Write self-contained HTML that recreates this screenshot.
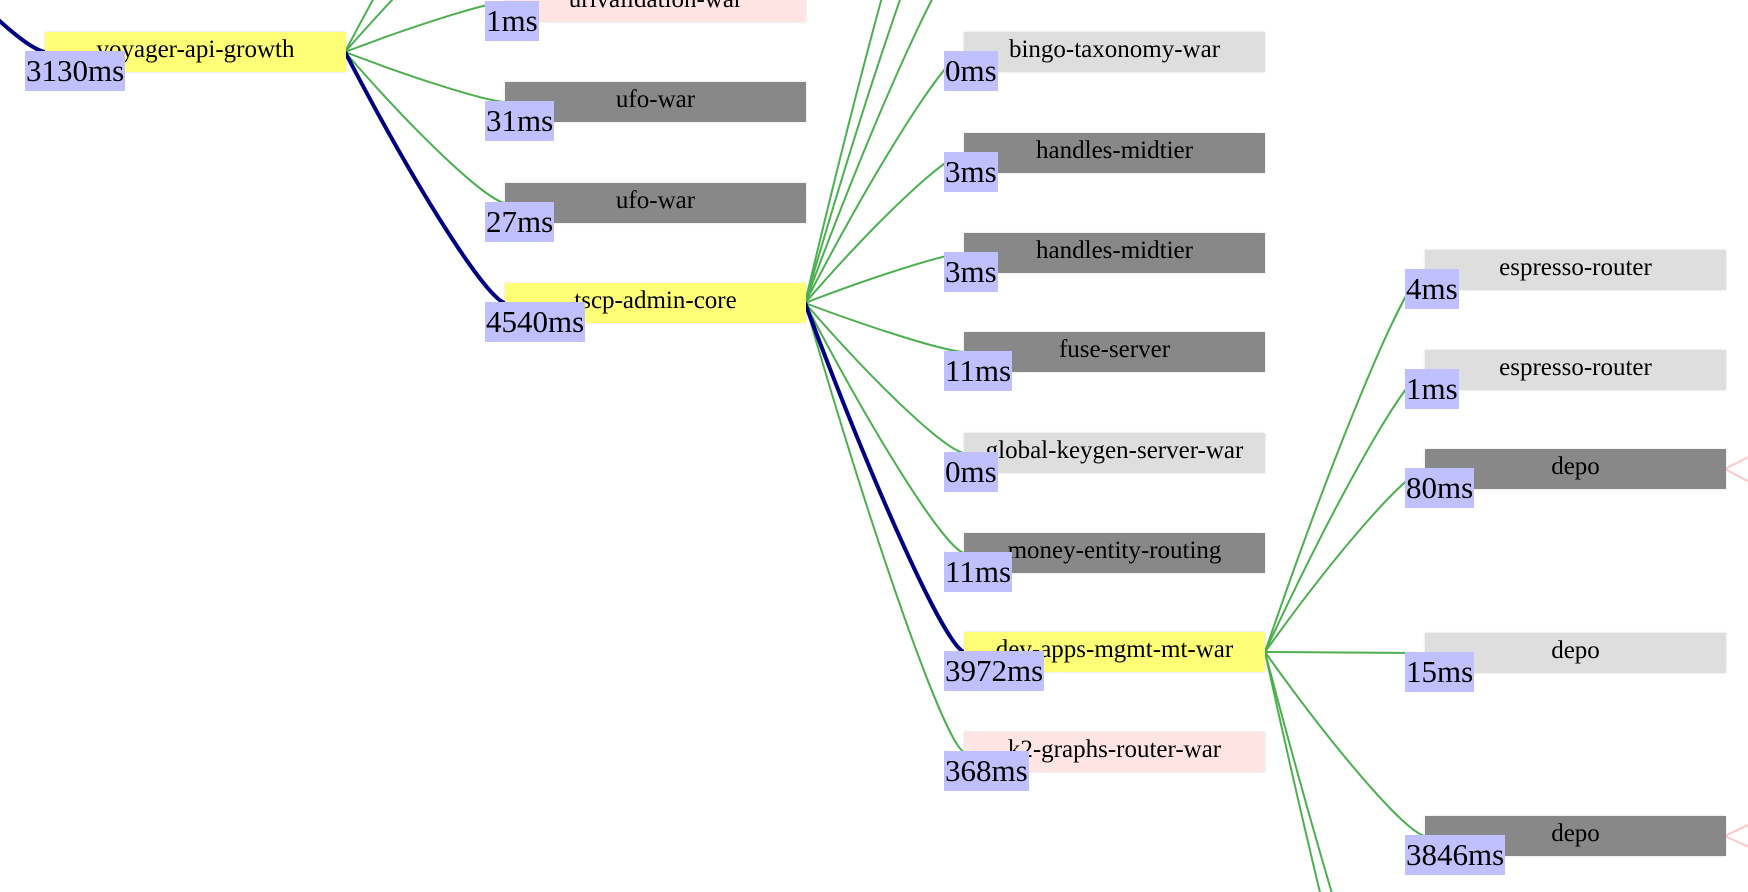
<!DOCTYPE html>
<html><head><meta charset="utf-8"><style>
html,body{margin:0;padding:0;background:#fff;width:1748px;height:892px;overflow:hidden;position:relative;font-family:"Liberation Serif",serif}
svg{position:absolute;left:0;top:0}
.n{position:absolute;width:301px;height:40px;text-align:center;font-size:25px;line-height:36px;color:#000;box-shadow:0 0 2px rgba(0,0,0,0.15)}
.y{background:#ffff77}.g{background:#888}.l{background:#dedede}.p{background:#ffe4e4}
.m{position:absolute;background:#c0c0ff;font-size:31px;line-height:40px;height:40px;padding:0 1px;color:#000}
</style></head><body>
<svg width="1748" height="892" id="s"></svg>
<script>
var s=document.getElementById('s');
function L(x1,y1,x2,y2,c,w){var dx=x2-x1,dy=y2-y1;
var d='M'+x1+','+y1+' C'+(x1+dx*0.45)+','+(y1+dy*0.55)+' '+(x2-dx*0.12)+','+(y2-dy*0.02)+' '+x2+','+y2;
var p=document.createElementNS('http://www.w3.org/2000/svg','path');p.setAttribute('d',d);p.setAttribute('fill','none');p.setAttribute('stroke',c);p.setAttribute('stroke-width',w);s.appendChild(p);}
var G='#4caf50',B='#000080',P='#ffc8c8';
[-198,-98,2,102,203].forEach(function(y){L(345,52,505,y,G,2)});
[-248,-148,-48,52,153,253,352,453,553,752].forEach(function(y){L(805,303,964,y,G,2)});
[270,370,469,653,836,1150,1250].forEach(function(y){L(1265,652,1425,y,G,2)});
L(-255,-280,45,52,B,4);L(345,52,505,303,B,4);L(805,303,964,652,B,4);
L(1725,469,1840,420,P,2);L(1725,469,1840,520,P,2);L(1725,836,1840,790,P,2);L(1725,836,1840,880,P,2);
</script>
<div class="n y" style="left:45px;top:32px">voyager-api-growth</div><div class="m" style="left:25px;top:51px">3130ms</div>
<div class="n p" style="left:505px;top:-18px">urlvalidation-war</div><div class="m" style="left:485px;top:1px">1ms</div>
<div class="n g" style="left:505px;top:82px">ufo-war</div><div class="m" style="left:485px;top:101px">31ms</div>
<div class="n g" style="left:505px;top:183px">ufo-war</div><div class="m" style="left:485px;top:202px">27ms</div>
<div class="n y" style="left:505px;top:283px">tscp-admin-core</div><div class="m" style="left:485px;top:302px">4540ms</div>
<div class="n l" style="left:964px;top:32px">bingo-taxonomy-war</div><div class="m" style="left:944px;top:51px">0ms</div>
<div class="n g" style="left:964px;top:133px">handles-midtier</div><div class="m" style="left:944px;top:152px">3ms</div>
<div class="n g" style="left:964px;top:233px">handles-midtier</div><div class="m" style="left:944px;top:252px">3ms</div>
<div class="n g" style="left:964px;top:332px">fuse-server</div><div class="m" style="left:944px;top:351px">11ms</div>
<div class="n l" style="left:964px;top:433px">global-keygen-server-war</div><div class="m" style="left:944px;top:452px">0ms</div>
<div class="n g" style="left:964px;top:533px">money-entity-routing</div><div class="m" style="left:944px;top:552px">11ms</div>
<div class="n y" style="left:964px;top:632px">dev-apps-mgmt-mt-war</div><div class="m" style="left:944px;top:651px">3972ms</div>
<div class="n p" style="left:964px;top:732px">k2-graphs-router-war</div><div class="m" style="left:944px;top:751px">368ms</div>
<div class="n l" style="left:1425px;top:250px">espresso-router</div><div class="m" style="left:1405px;top:269px">4ms</div>
<div class="n l" style="left:1425px;top:350px">espresso-router</div><div class="m" style="left:1405px;top:369px">1ms</div>
<div class="n g" style="left:1425px;top:449px">depo</div><div class="m" style="left:1405px;top:468px">80ms</div>
<div class="n l" style="left:1425px;top:633px">depo</div><div class="m" style="left:1405px;top:652px">15ms</div>
<div class="n g" style="left:1425px;top:816px">depo</div><div class="m" style="left:1405px;top:835px">3846ms</div>
</body></html>
